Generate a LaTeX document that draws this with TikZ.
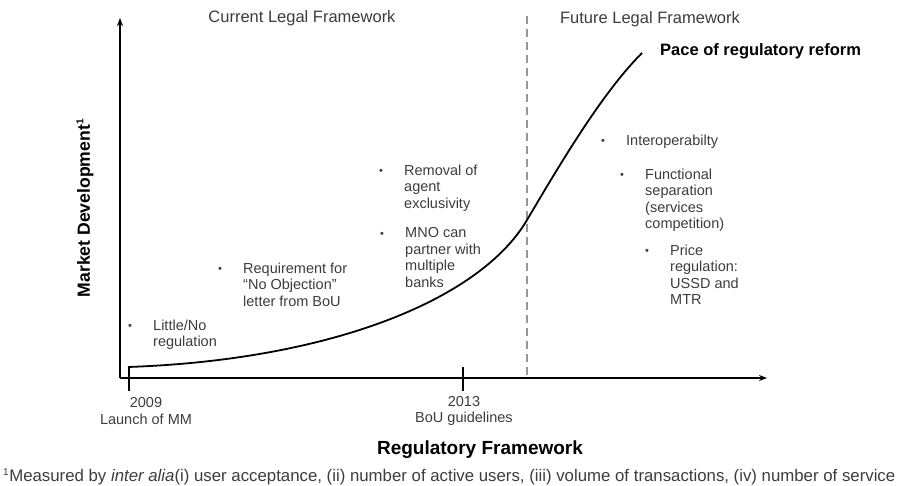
\documentclass[tikz,border=0pt]{standalone}
\usepackage{fontspec}
\setmainfont{Liberation Sans}
\usetikzlibrary{calc}
\usetikzlibrary{arrows.meta}
\usetikzlibrary{positioning}
\definecolor{txtgray}{RGB}{60,60,60}
\definecolor{dashgray}{RGB}{150,150,150}
\tikzset{axis/.style={line width=2pt,-{Stealth[length=8pt,width=6pt]}}}
\tikzset{yearmark/.style={line width=1.8pt}}
\tikzset{lbl/.style={inner sep=0pt,text=txtgray,font=\fontsize{14.5}{16.5}\selectfont}}
\tikzset{dot/.style={inner sep=0pt,yshift=-1.5pt,text=txtgray,font=\fontsize{11}{11}\selectfont}}
\tikzset{itemtxt/.style={lbl,align=left,anchor=north west}}
\tikzset{heading/.style={inner sep=0pt,font=\bfseries\fontsize{16.5}{18}\selectfont}}

\begin{document}
\begin{tikzpicture}[x=1pt,y=-1pt]
\useasboundingbox (0,0) rectangle (905,486);
% axes
\coordinate (O) at (120,378);
\coordinate (ytop) at (120,18);
\coordinate (xend) at (767,378);
\draw[axis] (O) -- (ytop);
\draw[axis] (O) -- (xend);
% boundary between frameworks
\coordinate (dtop) at (527,16);
\coordinate (dbot) at (527,378);
\draw[dashgray, line width=1.4pt, dash pattern=on 8pt off 5pt] (dtop) -- (dbot);
% year marks
\foreach \n/\x in {a/129, b/463} {
	\coordinate (m\n-top) at (\x,367);
	\coordinate (m\n-bot) at (\x,391);
	\draw[yearmark] (m\n-top) -- (m\n-bot);
}
\node[lbl, align=center] (ya) at (146,411) {2009\\Launch of MM};
\node[lbl, align=center] (yb) at (464,411) {2013\\BoU guidelines};
% pace curve
\coordinate (cs) at (128,367);
\coordinate (cm) at (527,220);
\coordinate (ce) at (642,53);
\draw[line width=1.8pt] (cs) .. controls (330,360) and (480,300) .. (cm)
	.. controls (567,152) and (605,90) .. (ce);
\node[heading, anchor=west] (pace) at (660,51) {Pace of regulatory reform};
% headings
\node[lbl, font=\fontsize{16.5}{18}\selectfont] (cur) at (302,18) {Current Legal Framework};
\node[lbl, font=\fontsize{16.5}{18}\selectfont] (fut) at (650,19) {Future Legal Framework};
\node[heading, rotate=90, font=\bfseries\fontsize{17.6}{20}\selectfont] (ylab) at (85,208) {Market Development\textsuperscript{\fontsize{10}{10}\selectfont 1}};
\node[heading, font=\bfseries\fontsize{19}{20}\selectfont] (xlab) at (480,450) {Regulatory Framework};
% bullet items
\foreach \n/\x/\y/\txt in {
	little/130/325/{Little/No\\regulation},
	noobj/220/268/{Requirement for\\“No Objection”\\letter from BoU},
	agent/381/170/{Removal of\\agent\\exclusivity},
	mno/382/233/{MNO can\\partner with\\multiple\\banks},
	inter/603/140/{Interoperabilty},
	func/622/174/{Functional\\separation\\(services\\competition)},
	price/647/250/{Price\\regulation:\\USSD and\\MTR}} {
	\node[dot] (b-\n) at (\x,\y) {•};
	\node[itemtxt] (t-\n) at ($(\x,\y)+(23,-5.5)$) {\txt};
}
% footnote
\node[lbl, anchor=west, font=\fontsize{16.8}{18}\selectfont] (note) at (3,477) {\textsuperscript{\fontsize{10}{10}\selectfont 1}Measured by \textit{inter alia}(i) user acceptance, (ii) number of active users, (iii) volume of transactions, (iv) number of service};
\end{tikzpicture}
\end{document}
